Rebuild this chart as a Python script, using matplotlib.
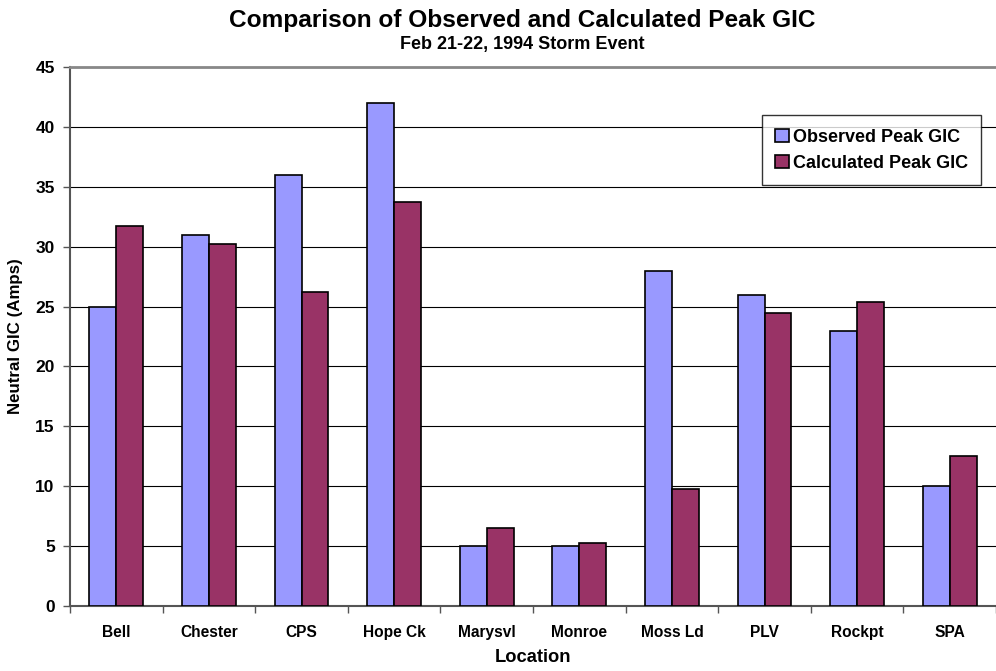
import numpy as np
import matplotlib
matplotlib.use('Agg')
import matplotlib.pyplot as plt
from matplotlib import rcParams

rcParams['font.family'] = ['Liberation Sans', 'DejaVu Sans']
rcParams['font.weight'] = 'bold'

locations = ['Bell', 'Chester', 'CPS', 'Hope Ck', 'Marysvl', 'Monroe', 'Moss Ld', 'PLV', 'Rockpt', 'SPA']
observed = [25, 31, 36, 42, 5, 5, 28, 26, 23, 10]
calculated = [31.7, 30.2, 26.2, 33.7, 6.5, 5.3, 9.8, 24.5, 25.4, 12.5]

obs_color = '#9999FF'
calc_color = '#993366'

fig = plt.figure(figsize=(9.96, 6.71), dpi=100)
ax = fig.add_axes([0.0703, 0.0969, 0.9297, 0.8032])

x = np.arange(len(locations))
w = 0.29
ax.bar(x - w / 2, observed, w, color=obs_color, edgecolor='black', linewidth=1.2,
	label='Observed Peak GIC', zorder=3)
ax.bar(x + w / 2, calculated, w, color=calc_color, edgecolor='black', linewidth=1.2,
	label='Calculated Peak GIC', zorder=3)

ax.set_ylim(0, 45)
ax.set_xlim(-0.5, 9.42)
ax.set_yticks(range(0, 46, 5))
ax.yaxis.grid(True, color='black', linewidth=0.8, zorder=0)
ax.set_axisbelow(True)

ax.set_xticks(x)
ax.set_xticklabels(locations, fontsize=11.2, fontweight='bold')
ax.set_xticks(np.arange(-0.5, 9.6, 1), minor=True)
ax.tick_params(axis='x', which='major', length=0, pad=14)
ax.tick_params(axis='x', which='minor', length=5, color='#555555', width=1)
ax.tick_params(axis='y', length=5, color='#555555', width=1, labelsize=12.5, pad=6)
for lab in ax.get_yticklabels():
	lab.set_fontweight('bold')

ax.spines['right'].set_visible(False)
ax.spines['top'].set_color('#888888')
ax.spines['top'].set_linewidth(2)
ax.spines['left'].set_color('#555555')
ax.spines['left'].set_linewidth(1.5)
ax.spines['bottom'].set_color('#555555')
ax.spines['bottom'].set_linewidth(1.5)

ax.set_ylabel('Neutral GIC (Amps)', fontsize=12.2, fontweight='bold', labelpad=9)
ax.set_xlabel('Location', fontsize=13.2, fontweight='bold', labelpad=6)

fig.text(0.5246, 0.970, 'Comparison of Observed and Calculated Peak GIC', ha='center', va='center',
	fontsize=17.6, fontweight='bold')
fig.text(0.5246, 0.933, 'Feb 21-22, 1994 Storm Event', ha='center', va='center',
	fontsize=13, fontweight='bold')

leg = ax.legend(loc='upper right', bbox_to_anchor=(0.984, 0.911), fontsize=13,
	frameon=True, fancybox=False, edgecolor='black', handlelength=0.75, handleheight=0.75,
	handletextpad=0.2, borderpad=0.75, labelspacing=0.5, borderaxespad=0)
leg.get_frame().set_linewidth(1)
for t in leg.get_texts():
	t.set_fontweight('bold')

fig.savefig('out.png', dpi=100)
